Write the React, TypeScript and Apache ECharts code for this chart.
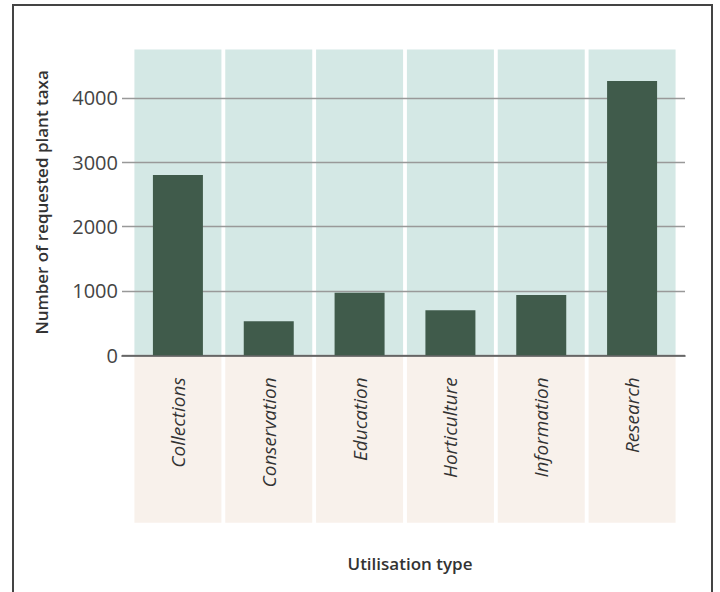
import React, { useEffect, useRef } from "react";
import * as echarts from "echarts";

const categories = ["Collections", "Conservation", "Education", "Horticulture", "Information", "Research"];
const requestedTaxa = [2800, 530, 970, 700, 935, 4260];
const yAxisMax = 4750;
const yTickInterval = 1000;
const yAxisTitle = "Number of requested plant taxa";
const xAxisTitle = "Utilisation type";

const FONT = "'Open Sans', 'Noto Sans', sans-serif";

export default function App() {
  const ref = useRef<HTMLDivElement>(null);
  useEffect(() => {
    const chart = echarts.init(ref.current!, null, { renderer: "svg" });
    const panelTop = categories.map(() => yAxisMax);
    const panelBottom = categories.map(() => 1);
    chart.setOption({
      animation: false,
      backgroundColor: "#ffffff",
      graphic: [
        {
          type: "rect",
          shape: { x: 13, y: 5, width: 699, height: 620 },
          style: { fill: "none", stroke: "#444", lineWidth: 2 },
          silent: true,
          z: 0,
        },
      ],
      grid: [
        { left: 122, right: 35, top: 49.5, height: 305.8 },
        { left: 132.5, right: 42.5, top: 49.5, height: 305.8 },
        { left: 132.5, right: 42.5, top: 356.3, height: 166.5 },
      ],
      xAxis: [
        {
          gridIndex: 0,
          type: "value",
          min: 0,
          max: 1,
          z: 3,
          axisLine: { show: true, onZero: false, lineStyle: { color: "#555", width: 1.6 } },
          axisTick: { show: false },
          axisLabel: { show: false },
          splitLine: { show: false },
        },
        {
          gridIndex: 1,
          type: "category",
          data: categories,
          z: 10,
          axisLine: { show: false },
          axisTick: { show: false },
          axisLabel: {
            show: true,
            rotate: 90,
            margin: 22,
            interval: 0,
            color: "#333",
            fontFamily: FONT,
            fontStyle: "italic",
            fontWeight: 400,
            fontSize: 19,
          },
        },
        {
          gridIndex: 2,
          type: "category",
          data: categories,
          axisLine: { show: false },
          axisTick: { show: false },
          axisLabel: { show: false },
          name: xAxisTitle,
          nameLocation: "middle",
          nameGap: 32,
          nameTextStyle: {
            color: "#333",
            fontFamily: FONT,
            fontWeight: 600,
            fontSize: 17,
            padding: [0, 0, 0, 10],
          },
        },
        {
          gridIndex: 1,
          type: "category",
          position: "top",
          data: categories,
          show: false,
        },
      ],
      yAxis: [
        {
          gridIndex: 0,
          type: "value",
          min: 0,
          max: yAxisMax,
          interval: yTickInterval,
          z: 3,
          axisLine: { show: false },
          axisTick: { show: false },
          axisLabel: {
            show: true,
            margin: 4,
            color: "#444",
            fontFamily: FONT,
            fontSize: 20,
            showMaxLabel: false,
            formatter: (v: number) => String(v),
          },
          splitLine: { show: true, showMaxLine: false, lineStyle: { color: "#999", width: 1.4 } },
          name: yAxisTitle,
          nameLocation: "middle",
          nameGap: 72,
          nameTextStyle: {
            color: "#333",
            fontFamily: FONT,
            fontWeight: 600,
            fontSize: 17,
          },
        },
        {
          gridIndex: 1,
          type: "value",
          min: 0,
          max: yAxisMax,
          show: false,
          splitLine: { show: false },
        },
        {
          gridIndex: 2,
          type: "value",
          min: 0,
          max: 1,
          show: false,
          splitLine: { show: false },
        },
      ],
      series: [
        {
          type: "bar",
          xAxisIndex: 3,
          yAxisIndex: 1,
          data: panelTop,
          barWidth: 87,
          itemStyle: { color: "#d4e8e5" },
          silent: true,
          z: 1,
        },
        {
          type: "bar",
          xAxisIndex: 1,
          yAxisIndex: 1,
          data: requestedTaxa,
          barWidth: 50,
          itemStyle: { color: "#405b4b" },
          z: 5,
        },
        {
          type: "bar",
          xAxisIndex: 2,
          yAxisIndex: 2,
          data: panelBottom,
          barWidth: 87,
          itemStyle: { color: "#f8f1eb" },
          silent: true,
          z: 1,
        },
      ],
    });
    return () => chart.dispose();
  }, []);
  return <div ref={ref} style={{ position: "fixed", left: 0, top: 0, width: 720, height: 592 }} />;
}
